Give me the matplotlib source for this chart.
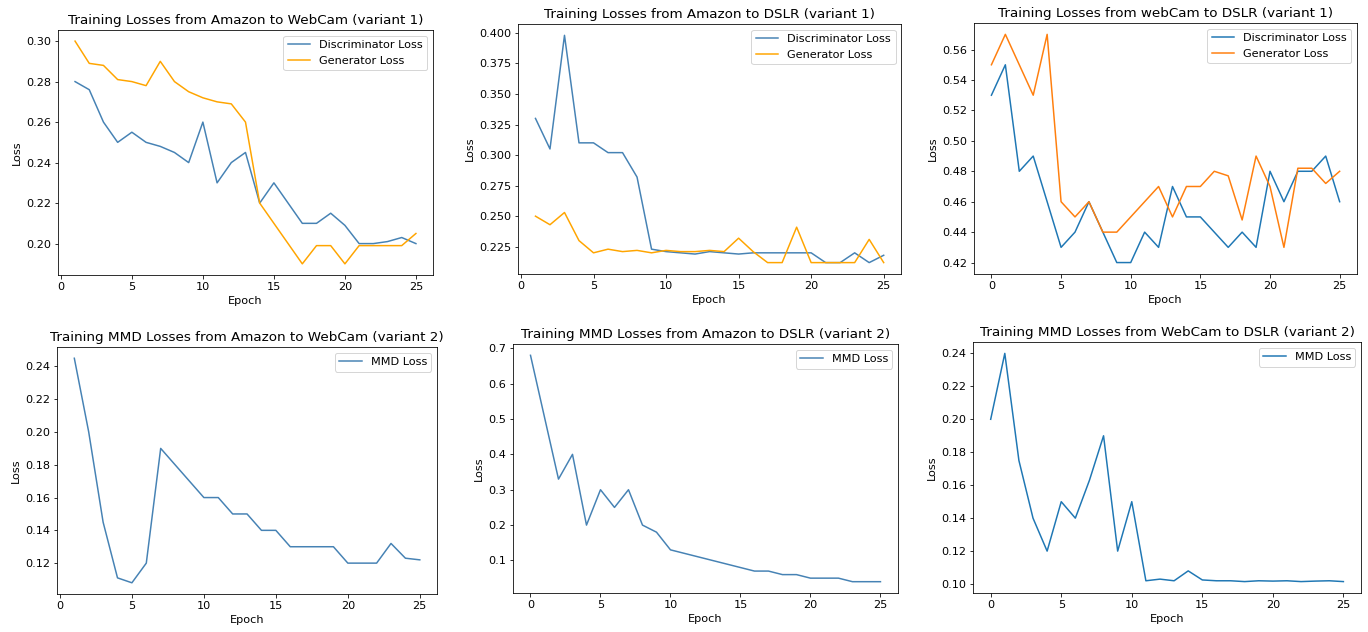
import numpy as np
import matplotlib
matplotlib.use('Agg')
import matplotlib.pyplot as plt

# ---- variant 1: adversarial losses ----
epochs_aw1 = list(range(1, 26))
disc_aw1 = [0.280, 0.276, 0.260, 0.250, 0.255, 0.250, 0.248, 0.245, 0.240, 0.260,
            0.230, 0.240, 0.245, 0.220, 0.230, 0.220, 0.210, 0.210, 0.215, 0.209,
            0.200, 0.200, 0.201, 0.203, 0.200]
gen_aw1 = [0.300, 0.289, 0.288, 0.281, 0.280, 0.278, 0.290, 0.280, 0.275, 0.272,
           0.270, 0.269, 0.260, 0.220, 0.210, 0.200, 0.190, 0.199, 0.199, 0.190,
           0.199, 0.199, 0.199, 0.199, 0.205]

epochs_ad1 = list(range(1, 26))
disc_ad1 = [0.330, 0.305, 0.398, 0.310, 0.310, 0.302, 0.302, 0.282, 0.223, 0.221,
            0.220, 0.219, 0.221, 0.220, 0.219, 0.220, 0.220, 0.220, 0.220, 0.220,
            0.212, 0.212, 0.220, 0.212, 0.218]
gen_ad1 = [0.250, 0.243, 0.253, 0.230, 0.220, 0.223, 0.221, 0.222, 0.220, 0.222,
           0.221, 0.221, 0.222, 0.221, 0.232, 0.221, 0.212, 0.212, 0.241, 0.212,
           0.212, 0.212, 0.212, 0.231, 0.212]

epochs_wd1 = list(range(0, 26))
disc_wd1 = [0.53, 0.55, 0.48, 0.49, 0.46, 0.43, 0.44, 0.46, 0.44, 0.42,
            0.42, 0.44, 0.43, 0.47, 0.45, 0.45, 0.44, 0.43, 0.44, 0.43,
            0.48, 0.46, 0.48, 0.48, 0.49, 0.46]
gen_wd1 = [0.55, 0.57, 0.55, 0.53, 0.57, 0.46, 0.45, 0.46, 0.44, 0.44,
           0.45, 0.46, 0.47, 0.45, 0.47, 0.47, 0.48, 0.477, 0.448, 0.49,
           0.47, 0.43, 0.482, 0.482, 0.472, 0.48]

# ---- variant 2: MMD losses ----
epochs_aw2 = list(range(1, 26))
mmd_aw2 = [0.245, 0.200, 0.145, 0.111, 0.108, 0.120, 0.190, 0.180, 0.170, 0.160,
           0.160, 0.150, 0.150, 0.140, 0.140, 0.130, 0.130, 0.130, 0.130, 0.120,
           0.120, 0.120, 0.132, 0.123, 0.122]

epochs_ad2 = list(range(0, 26))
mmd_ad2 = [0.68, 0.505, 0.33, 0.40, 0.20, 0.30, 0.25, 0.30, 0.20, 0.18,
           0.13, 0.12, 0.11, 0.10, 0.09, 0.08, 0.07, 0.07, 0.06, 0.06,
           0.05, 0.05, 0.05, 0.04, 0.04, 0.04]

epochs_wd2 = list(range(0, 26))
mmd_wd2 = [0.200, 0.240, 0.175, 0.140, 0.120, 0.150, 0.140, 0.163, 0.190, 0.120,
           0.150, 0.102, 0.103, 0.102, 0.108, 0.1025, 0.102, 0.102, 0.1015, 0.102,
           0.1018, 0.102, 0.1015, 0.1018, 0.102, 0.1015]

plt.rcParams['font.size'] = 11.2

fig = plt.figure(figsize=(19, 632 / 72), dpi=72)

# axes boxes (left, bottom, width, height in figure fraction)
boxes = [
    [0.0424, 0.5649, 0.2741, 0.3877],
    [0.3787, 0.5665, 0.2800, 0.3956],
    [0.7120, 0.5665, 0.2800, 0.3972],
    [0.0417, 0.0601, 0.2778, 0.3908],
    [0.3750, 0.0617, 0.2814, 0.3940],
    [0.7113, 0.0617, 0.2836, 0.3972],
]
axes = [fig.add_axes(b) for b in boxes]

def gan_panel(ax, x, d, g, title, dcol, gcol):
    ax.plot(x, d, color=dcol, label='Discriminator Loss')
    ax.plot(x, g, color=gcol, label='Generator Loss')
    ax.set_title(title)
    ax.set_xlabel('Epoch')
    ax.set_ylabel('Loss')
    ax.legend(loc='upper right')

def mmd_panel(ax, x, m, title, col):
    ax.plot(x, m, color=col, label='MMD Loss')
    ax.set_title(title)
    ax.set_xlabel('Epoch')
    ax.set_ylabel('Loss')
    ax.legend(loc='upper right')

gan_panel(axes[0], epochs_aw1, disc_aw1, gen_aw1,
          'Training Losses from Amazon to WebCam (variant 1)', 'steelblue', 'orange')
gan_panel(axes[1], epochs_ad1, disc_ad1, gen_ad1,
          'Training Losses from Amazon to DSLR (variant 1)', 'steelblue', 'orange')
gan_panel(axes[2], epochs_wd1, disc_wd1, gen_wd1,
          'Training Losses from webCam to DSLR (variant 1)', 'C0', 'C1')
mmd_panel(axes[3], epochs_aw2, mmd_aw2,
          'Training MMD Losses from Amazon to WebCam (variant 2)', 'steelblue')
mmd_panel(axes[4], epochs_ad2, mmd_ad2,
          'Training MMD Losses from Amazon to DSLR (variant 2)', 'steelblue')
mmd_panel(axes[5], epochs_wd2, mmd_wd2,
          'Training MMD Losses from WebCam to DSLR (variant 2)', 'C0')

for ax in axes:
    ax.set_xticks([0, 5, 10, 15, 20, 25])

fig.savefig('out.png', dpi=72)
